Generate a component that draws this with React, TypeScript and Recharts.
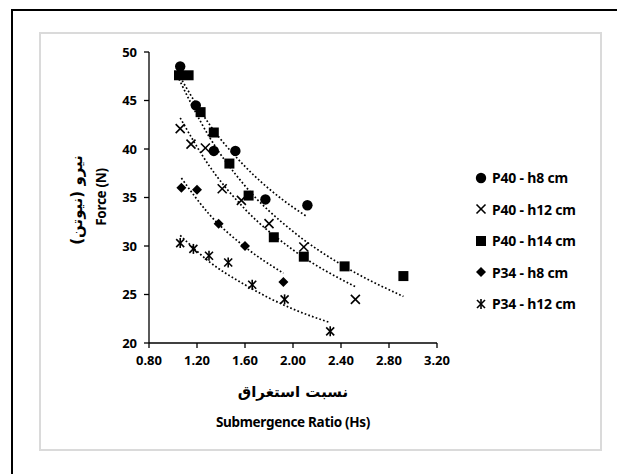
import React from "react";
import { ComposedChart, Scatter, Line, XAxis, YAxis } from "recharts";

const xTicks = [0.8, 1.2, 1.6, 2.0, 2.4, 2.8, 3.2];
const yTicks = [20, 25, 30, 35, 40, 45, 50];

// measured points
const p40h8X = [1.06, 1.19, 1.34, 1.52, 1.77, 2.12];
const p40h8Y = [48.5, 44.5, 39.8, 39.8, 34.8, 34.2];
const p40h12X = [1.06, 1.15, 1.27, 1.41, 1.57, 1.8, 2.09, 2.52];
const p40h12Y = [42.1, 40.5, 40.1, 35.9, 34.7, 32.3, 29.9, 24.5];
const p40h14X = [1.05, 1.13, 1.23, 1.34, 1.47, 1.63, 1.84, 2.09, 2.43, 2.92];
const p40h14Y = [47.6, 47.6, 43.8, 41.7, 38.5, 35.2, 30.9, 28.9, 27.9, 26.9];
const p34h8X = [1.07, 1.2, 1.38, 1.6, 1.92];
const p34h8Y = [36.0, 35.8, 32.3, 30.0, 26.3];
const p34h12X = [1.06, 1.17, 1.3, 1.46, 1.66, 1.93, 2.31];
const p34h12Y = [30.3, 29.7, 29.0, 28.3, 26.0, 24.5, 21.2];

// trendlines
const p40h8TrendX = [1.06, 1.3, 1.6, 1.9, 2.12];
const p40h8TrendY = [47.4, 42.6, 38.2, 34.9, 33.0];
const p40h12TrendX = [1.06, 1.3, 1.6, 2.0, 2.52];
const p40h12TrendY = [43.2, 38.3, 33.8, 29.6, 25.8];
const p40h14TrendX = [1.05, 1.3, 1.6, 2.0, 2.4, 2.92];
const p40h14TrendY = [47.2, 41.3, 36.2, 31.5, 28.1, 24.8];
const p34h8TrendX = [1.07, 1.3, 1.6, 1.92];
const p34h8TrendY = [37.0, 33.3, 29.9, 27.2];
const p34h12TrendX = [1.06, 1.3, 1.6, 2.0, 2.31];
const p34h12TrendY = [31.1, 28.4, 26.0, 23.5, 22.1];

const seriesNames = ["P40 - h8 cm", "P40 - h12 cm", "P40 - h14 cm", "P34 - h8 cm", "P34 - h12 cm"];

const pts = (xs: number[], ys: number[]) => xs.map((x, i) => ({ x, y: ys[i] }));

const FONT = "'Noto Sans', 'DejaVu Sans', sans-serif";
const FA_FONT = "'DejaVu Sans', sans-serif";

const Marker = ({ kind, cx, cy }: { kind: number; cx: number; cy: number }) => {
  if (kind === 0) return <circle cx={cx} cy={cy} r={5.2} fill="#000" />;
  if (kind === 1)
    return (
      <g stroke="#000" strokeWidth={1.6}>
        <line x1={cx - 4.5} y1={cy - 4.5} x2={cx + 4.5} y2={cy + 4.5} />
        <line x1={cx - 4.5} y1={cy + 4.5} x2={cx + 4.5} y2={cy - 4.5} />
      </g>
    );
  if (kind === 2) return <rect x={cx - 5} y={cy - 5} width={10} height={10} fill="#000" />;
  if (kind === 3)
    return <polygon points={`${cx},${cy - 5} ${cx + 5},${cy} ${cx},${cy + 5} ${cx - 5},${cy}`} fill="#000" />;
  return (
    <g stroke="#000" strokeWidth={1.6}>
      <line x1={cx - 4} y1={cy - 4} x2={cx + 4} y2={cy + 4} />
      <line x1={cx - 4} y1={cy + 4} x2={cx + 4} y2={cy - 4} />
      <line x1={cx} y1={cy - 5} x2={cx} y2={cy + 5} />
    </g>
  );
};

const shapeFor = (kind: number) => (props: any) => <Marker kind={kind} cx={props.cx} cy={props.cy} />;

const scatterSets = [
  pts(p40h8X, p40h8Y),
  pts(p40h12X, p40h12Y),
  pts(p40h14X, p40h14Y),
  pts(p34h8X, p34h8Y),
  pts(p34h12X, p34h12Y),
];

const trendSets = [
  pts(p40h8TrendX, p40h8TrendY),
  pts(p40h12TrendX, p40h12TrendY),
  pts(p40h14TrendX, p40h14TrendY),
  pts(p34h8TrendX, p34h8TrendY),
  pts(p34h12TrendX, p34h12TrendY),
];

const tickStyle = { fill: "#000", fontSize: 13, fontWeight: 700, fontFamily: FONT };

export default function App() {
  return (
    <div style={{ position: "absolute", left: 0, top: 0, width: 617, height: 474, background: "#fff", overflow: "hidden", fontFamily: FONT }}>
      <div style={{ position: "absolute", left: 11, top: 9, width: 606, height: 465, borderTop: "2px solid #000", borderLeft: "2px solid #000" }} />
      <div style={{ position: "absolute", left: 39, top: 32, width: 559, height: 415, border: "2px solid #dadada" }} />
      <div style={{ position: "absolute", left: 0, top: 0 }}>
        <ComposedChart width={617} height={474} margin={{ top: 52, right: 180, bottom: 101, left: 109 }}>
          <XAxis
            type="number"
            dataKey="x"
            domain={[0.8, 3.2]}
            ticks={xTicks}
            tickFormatter={(v: number) => v.toFixed(2)}
            height={30}
            tick={tickStyle}
            tickSize={5}
            tickMargin={8}
            axisLine={{ stroke: "#000", strokeWidth: 1.3 }}
            tickLine={{ stroke: "#000", strokeWidth: 1.3 }}
            allowDataOverflow
          />
          <YAxis
            type="number"
            dataKey="y"
            domain={[20, 50]}
            ticks={yTicks}
            width={40}
            tick={tickStyle}
            tickSize={5}
            tickMargin={7}
            axisLine={{ stroke: "#000", strokeWidth: 1.3 }}
            tickLine={{ stroke: "#000", strokeWidth: 1.3 }}
            allowDataOverflow
          />
          {trendSets.map((d, i) => (
            <Line
              key={"t" + i}
              data={d}
              dataKey="y"
              type="monotone"
              stroke="#000"
              strokeWidth={1.7}
              strokeDasharray="1.7 2.2"
              dot={false}
              activeDot={false}
              isAnimationActive={false}
              legendType="none"
            />
          ))}
          {scatterSets.map((d, i) => (
            <Scatter key={"s" + i} name={seriesNames[i]} data={d} dataKey="y" shape={shapeFor(i)} isAnimationActive={false} />
          ))}
        </ComposedChart>
      </div>

      {/* legend */}
      <div style={{ position: "absolute", left: 473, top: 162 }}>
        {seriesNames.map((n, i) => (
          <div key={n} style={{ display: "flex", alignItems: "center", height: 31.5 }}>
            <svg width={16} height={16}>
              <Marker kind={i} cx={8} cy={8} />
            </svg>
            <span style={{ marginLeft: 3, fontSize: 14, letterSpacing: -0.2, fontWeight: 700, color: "#000" }}>{n}</span>
          </div>
        ))}
      </div>

      {/* x title */}
      <div style={{ position: "absolute", left: 193, width: 200, top: 380, textAlign: "center", fontFamily: FA_FONT, fontSize: 15, fontWeight: 700, lineHeight: "24px", color: "#000" }} dir="rtl">
        نسبت استغراق
      </div>
      <div style={{ position: "absolute", left: 183, width: 220, top: 412, textAlign: "center", fontSize: 13.5, letterSpacing: -0.3, fontWeight: 700, lineHeight: "20px", color: "#000" }}>
        Submergence Ratio (Hs)
      </div>

      {/* y title */}
      <div style={{ position: "absolute", left: 77 - 60, top: 200 - 12, width: 120, height: 24, textAlign: "center", transform: "rotate(-90deg)", fontFamily: FA_FONT, fontSize: 15, fontWeight: 700, lineHeight: "24px", color: "#000" }} dir="rtl">
        نیرو (نیوتن)
      </div>
      <div style={{ position: "absolute", left: 101 - 60, top: 197 - 10, width: 120, height: 20, textAlign: "center", transform: "rotate(-90deg)", fontSize: 13.5, letterSpacing: -0.3, fontWeight: 700, lineHeight: "20px", color: "#000" }}>
        Force (N)
      </div>
    </div>
  );
}
